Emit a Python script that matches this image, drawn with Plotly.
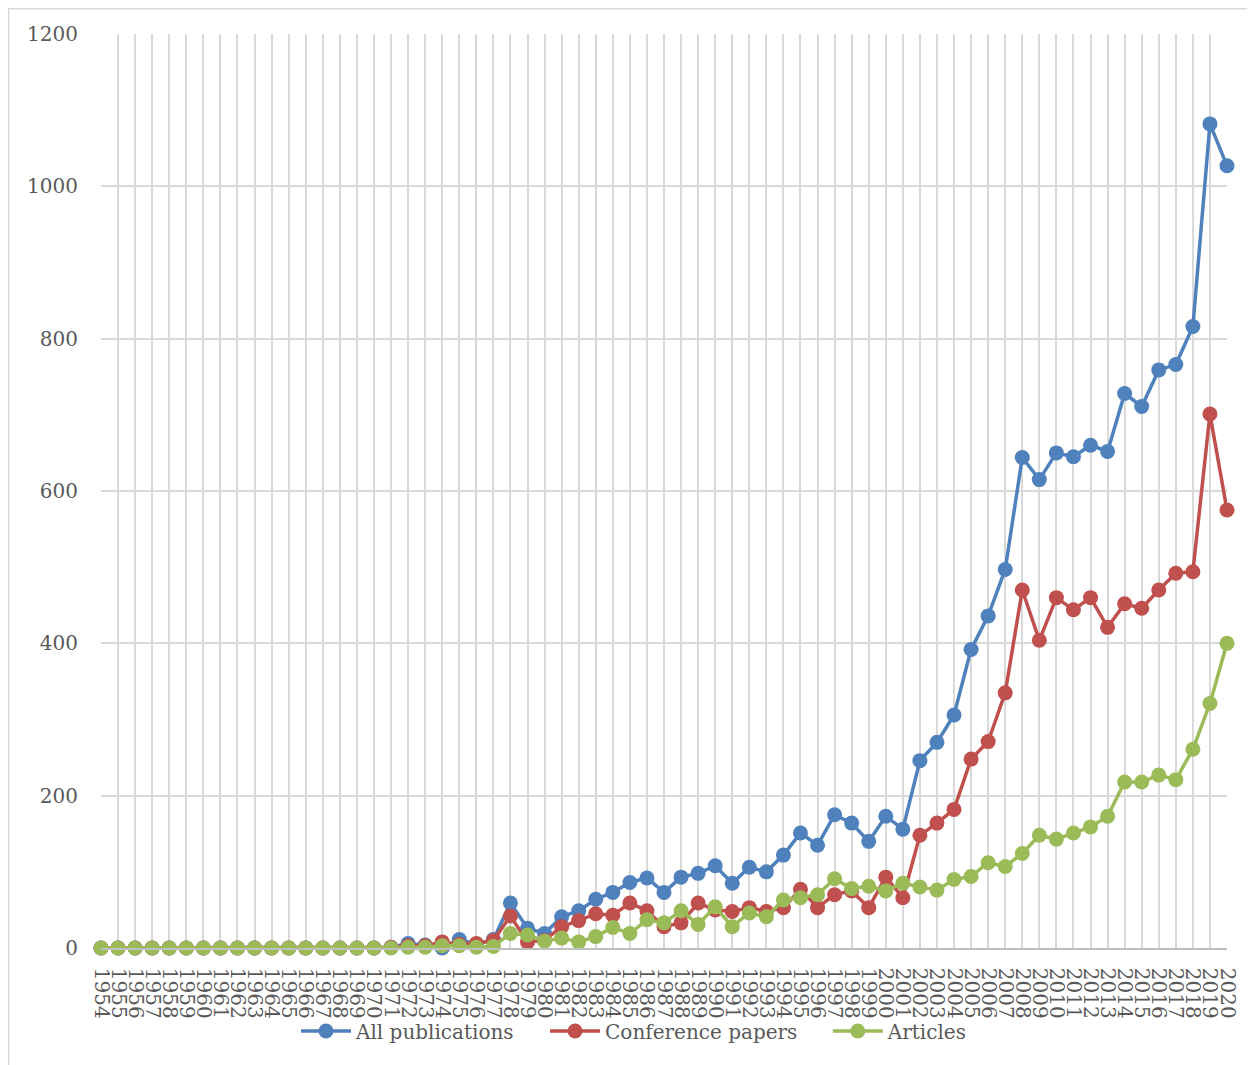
import plotly.graph_objects as go

years = list(range(1954, 2021))

all_publications = [0]*16 + [0, 1,
    6, 4, 0, 11, 5, 11, 59, 26, 19,
    41, 49, 64, 73, 86, 92, 73, 93, 98, 108,
    85, 106, 100, 122, 151, 135, 175, 164, 140, 173,
    156, 246, 270, 306, 392, 436, 497, 644, 615, 650,
    645, 660, 652, 728, 711, 759, 766, 816, 1082, 1027]

conference_papers = [0]*16 + [0, 1,
    3, 3, 8, 5, 6, 10, 42, 8, 10,
    28, 36, 45, 43, 59, 49, 28, 33, 59, 50,
    48, 53, 48, 53, 77, 53, 70, 75, 53, 93,
    66, 148, 164, 182, 248, 271, 335, 470, 404, 460,
    444, 460, 421, 452, 446, 470, 492, 494, 701, 575]

articles = [0]*16 + [0, 0,
    1, 1, 3, 3, 1, 2, 19, 17, 9,
    13, 8, 15, 27, 19, 37, 33, 49, 31, 54,
    28, 46, 41, 63, 66, 70, 91, 78, 81, 75,
    85, 80, 76, 90, 94, 112, 107, 124, 148, 143,
    151, 159, 173, 218, 218, 227, 221, 261, 321, 400]

series = [
    ("All publications", all_publications, "#4f81bd"),
    ("Conference papers", conference_papers, "#c0504d"),
    ("Articles", articles, "#9bbb59"),
]

FONT = "DejaVu Serif"
TXT = "#595959"
PAD = "\u00a0" * 4

fig = go.Figure()
for name, vals, col in series:
    fig.add_trace(go.Scatter(
        x=years, y=vals, name=name + PAD, mode="lines+markers",
        line=dict(color=col, width=3.5),
        marker=dict(color=col, size=15),
        cliponaxis=False,
    ))

fig.update_layout(
    width=1247, height=1057,
    margin=dict(l=93, r=28, t=26, b=117, autoexpand=False),
    paper_bgcolor="white", plot_bgcolor="white",
    font=dict(family=FONT, size=20, color=TXT),
    showlegend=True,
    legend=dict(orientation="h", xref="container", yref="container",
                x=(647 - 8) / 1247, xanchor="center", y=0.0322, yanchor="middle",
                bgcolor="rgba(0,0,0,0)",
                font=dict(family=FONT, size=20, color=TXT),
                itemwidth=50, tracegroupgap=0),
    xaxis=dict(
        range=[1954, 2020], tickmode="linear", tick0=1954, dtick=1,
        tickangle=90, showgrid=True, gridcolor="#d9d9d9", gridwidth=1.5,
        showline=True, linecolor="#bfbfbf", linewidth=1.5,
        ticks="outside", ticklen=14, tickcolor="rgba(0,0,0,0)",
        zeroline=False, automargin=False,
        tickfont=dict(family=FONT, size=20, color=TXT),
    ),
    yaxis=dict(
        range=[0, 1200], tickmode="linear", tick0=0, dtick=200,
        showgrid=True, gridcolor="#d9d9d9", gridwidth=1.5,
        zeroline=False, ticks="outside", ticklen=18, automargin=False,
        tickcolor="rgba(0,0,0,0)",
        tickfont=dict(family=FONT, size=20, color=TXT),
    ),
    shapes=[dict(type="rect", xref="paper", yref="paper",
                 x0=(8.75 - 101) / 1126, x1=1.1, y0=-0.2, y1=(948 - 8.75) / 914,
                 line=dict(color="#d9d9d9", width=1.5), layer="below")],
)

fig.write_html("out.html")
